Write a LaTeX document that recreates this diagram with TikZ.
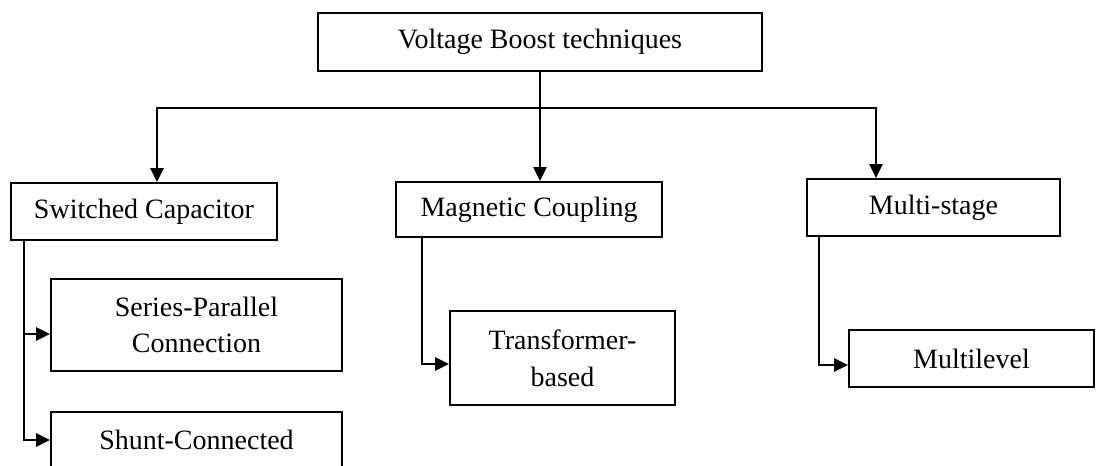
\documentclass[tikz,border=0pt]{standalone}
\usepackage{fontspec}
\setmainfont{Liberation Serif}
\usepackage{tikz}
\usetikzlibrary{arrows.meta,positioning}

\begin{document}
\begin{tikzpicture}[
    x=0.75pt, y=-0.75pt,
    box/.style={rectangle, draw, line width=1.5pt, inner sep=2pt, align=center, font=\fontsize{21pt}{27.5pt}\selectfont},
    line/.style={line width=1.5pt},
    arrow/.style={line, -{Triangle[length=10.5pt,width=10pt]}}
]
\useasboundingbox (0,0) rectangle (1096,465);

% Top level
\node[box, minimum width=333pt, minimum height=43.5pt] (boost) at (540,42) {Voltage Boost techniques};

% Technique families
\node[box, minimum width=199.5pt, minimum height=42.75pt] (switched) at (144,211.5) {Switched Capacitor};
\node[box, minimum width=199.5pt, minimum height=41.25pt] (magnetic) at (529,209.5) {Magnetic Coupling};
\node[box, minimum width=189.75pt, minimum height=42.75pt] (multistage) at (933.5,207.5) {Multi-stage};

% Sub-types
\node[box, minimum width=218.25pt, minimum height=69pt, anchor=north west] (seriespar) at ([xshift=30pt, yshift=-27.75pt]switched.south west) {Series-Parallel\\Connection};
\node[box, minimum width=218.25pt, minimum height=42pt, below=29.25pt of seriespar] (shunt) {Shunt-Connected};
\node[box, minimum width=168.75pt, minimum height=70.5pt, anchor=north west] (transformer) at ([xshift=40.5pt, yshift=-54pt]magnetic.south west) {Transformer-\\based};
\node[box, minimum width=183.75pt, minimum height=42.75pt, anchor=north west] (multilevel) at ([xshift=31.5pt, yshift=-69pt]multistage.south west) {Multilevel};

% Arrows
\coordinate (bus) at (540,108);
\draw[line] (boost.south) -- (bus);
\draw[arrow] (bus) -| ([xshift=9.75pt]switched.north);
\draw[arrow] (bus) -- (bus |- magnetic.north);
\draw[arrow] (bus) -| ([xshift=-43.1pt]multistage.north);

\draw[arrow] ([xshift=10.5pt]switched.south west) |- ([yshift=-6.75pt]seriespar.west);
\draw[arrow] ([xshift=10.5pt]switched.south west) |- (shunt.west);
\draw[arrow] ([xshift=20.25pt]magnetic.south west) |- ([yshift=-4.5pt]transformer.west);
\draw[arrow] ([xshift=9.75pt]multistage.south west) |- ([yshift=-4.9pt]multilevel.west);

\end{tikzpicture}
\end{document}
